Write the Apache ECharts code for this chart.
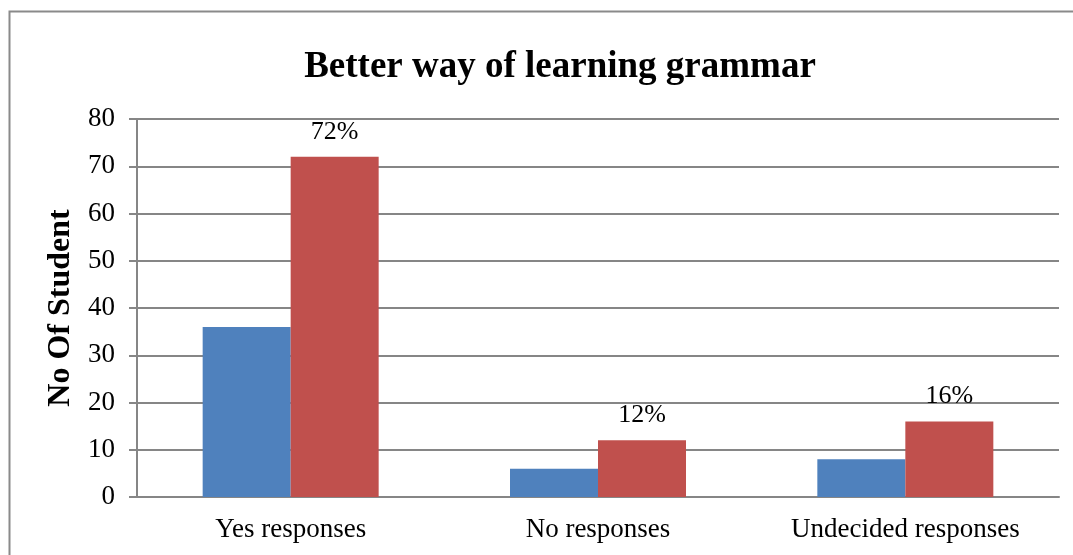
<!DOCTYPE html>
<html><head><meta charset="utf-8">
<script src="https://cdn.jsdelivr.net/npm/echarts@6/dist/echarts.min.js"></script>
<style>html,body{margin:0;padding:0;background:#fff}#c{width:1073px;height:555px}</style>
</head><body><div id="c"></div>
<script>
const categories = ['Yes responses', 'No responses', 'Undecided responses'];
const countValues = [36, 6, 8];
const percentValues = [72, 12, 16];
const percentLabels = ['72%', '12%', '16%'];
const yTicks = [0, 10, 20, 30, 40, 50, 60, 70, 80];

const font = '"Liberation Serif", "Times New Roman", serif';
const chart = echarts.init(document.getElementById('c'));
chart.setOption({
  animation: false,
  backgroundColor: '#fff',
  title: {
    text: 'Better way of learning grammar',
    left: 555, top: 44, textAlign: 'center',
    textStyle: { fontFamily: font, fontWeight: 'bold', fontSize: 37, color: '#000' }
  },
  graphic: [{
    type: 'rect', shape: { x: 9.5, y: 11.5, width: 1200, height: 700 },
    style: { fill: 'none', stroke: '#8a8a8a', lineWidth: 2 }, silent: true
  }],
  grid: { left: 137, right: 14, top: 119, bottom: 58 },
  xAxis: {
    type: 'category', data: categories,
    axisLine: { show: true, lineStyle: { color: '#868686', width: 2 } },
    axisTick: { show: false },
    axisLabel: { fontFamily: font, fontSize: 27, color: '#000', margin: 19 }
  },
  yAxis: {
    type: 'value', min: yTicks[0], max: yTicks[yTicks.length - 1], interval: 10,
    name: 'No Of Student', nameLocation: 'middle', nameGap: 57,
    nameTextStyle: { fontFamily: font, fontWeight: 'bold', fontSize: 32, color: '#000' },
    axisLine: { show: true, lineStyle: { color: '#868686', width: 2 } },
    axisTick: { show: true, length: 8, lineStyle: { color: '#868686', width: 2 } },
    splitLine: { show: true, lineStyle: { color: '#868686', width: 2 } },
    axisLabel: { fontFamily: font, fontSize: 27, color: '#000', margin: 22 }
  },
  series: [
    {
      type: 'bar', data: countValues, barWidth: 88, barGap: '0%',
      itemStyle: { color: '#4F81BD' }
    },
    {
      type: 'bar', data: percentValues, barWidth: 88,
      itemStyle: { color: '#C0504D' },
      label: {
        show: true, position: 'top', distance: 12,
        formatter: p => percentLabels[p.dataIndex],
        fontFamily: font, fontSize: 26, color: '#000'
      }
    }
  ]
});
</script></body></html>
